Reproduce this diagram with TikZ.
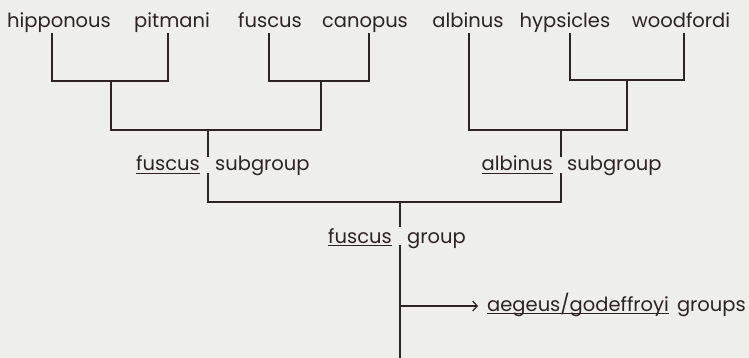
\documentclass[tikz,border=0pt]{standalone}
\usepackage{fontspec}
\setmainfont{Poppins}
\usetikzlibrary{arrows.meta}
\definecolor{ink}{RGB}{45,35,33}
\definecolor{paper}{RGB}{238,238,235}
\newcommand\ulw[1]{\setbox0\hbox{#1}\rlap{\rule[-2.6pt]{\wd0}{1pt}}#1}
\begin{document}
\begin{tikzpicture}[x=1pt,y=-1pt,
  lbl/.style={inner sep=0pt, font=\fontsize{19.5}{23}\selectfont, text=ink},
  br/.style={draw=ink, line width=1.2pt},
  arr/.style={draw=ink, line width=1.2pt, -{Straight Barb[length=4.5pt,width=10pt]}}]
\fill[paper] (0,0) rectangle (749,358);
\useasboundingbox (0,0) rectangle (749,358);
% leaf labels
\node[lbl,anchor=base] (hip) at (59,28) {hipponous};
\node[lbl,anchor=base] (pit) at (172,28) {pitmani};
\node[lbl,anchor=base] (fus) at (270,28) {fuscus};
\node[lbl,anchor=base] (can) at (365,28) {canopus};
\node[lbl,anchor=base] (alb) at (468,28) {albinus};
\node[lbl,anchor=base] (hyp) at (565,28) {hypsicles};
\node[lbl,anchor=base] (woo) at (681,28) {woodfordi};
% line tops under the leaves
\coordinate (hipT) at (52,33);
\coordinate (pitT) at (168,33);
\coordinate (fusT) at (269,33);
\coordinate (canT) at (369,33);
\coordinate (albT) at (469,33);
\coordinate (hypT) at (570,33);
\coordinate (wooT) at (684,33);
% junctions
\coordinate (j1) at (111,81);
\coordinate (j2) at (321,81);
\coordinate (j3) at (627,80);
\coordinate (k1) at (208,130);
\coordinate (k2) at (561,130);
\coordinate (m) at (400,202);
% subgroup labels
\node[lbl,anchor=base east] (fsA) at (200,171) {\ulw{fuscus}};
\node[lbl,anchor=base west] (fsB) at (215,171) {subgroup};
\node[lbl,anchor=base east] (asA) at (553,171) {\ulw{albinus}};
\node[lbl,anchor=base west] (asB) at (567,171) {subgroup};
\node[lbl,anchor=base east] (fgA) at (392,243) {\ulw{fuscus}};
\node[lbl,anchor=base west] (fgB) at (407,243) {group};
\node[lbl,anchor=base west] (aeg) at (487,311) {\ulw{aegeus/godeffroyi}};
\node[lbl,anchor=base east] (grp) at (746,311) {groups};
% gaps in the stems
\coordinate (fsTop) at (208,157);
\coordinate (fsBot) at (208,173);
\coordinate (asTop) at (561,157);
\coordinate (asBot) at (561,173);
\coordinate (fgTop) at (400,227);
\coordinate (fgBot) at (400,245);
\coordinate (ar) at (400,306);
\coordinate (tip) at (478,306);
\coordinate (root) at (400,358);
% tree
\draw[br] (hipT) |- (j1) -| (pitT);
\draw[br] (fusT) |- (j2) -| (canT);
\draw[br] (j1) |- (k1) -| (j2);
\draw[br] (k1) -- (fsTop);
\draw[br] (hypT) |- (j3) -| (wooT);
\draw[br] (albT) |- (k2) -| (j3);
\draw[br] (k2) -- (asTop);
\draw[br] (fsBot) |- (m) -| (asBot);
\draw[br] (m) -- (fgTop);
\draw[br] (fgBot) -- (root);
\draw[arr] (ar) -- (tip);
\end{tikzpicture}
\end{document}
